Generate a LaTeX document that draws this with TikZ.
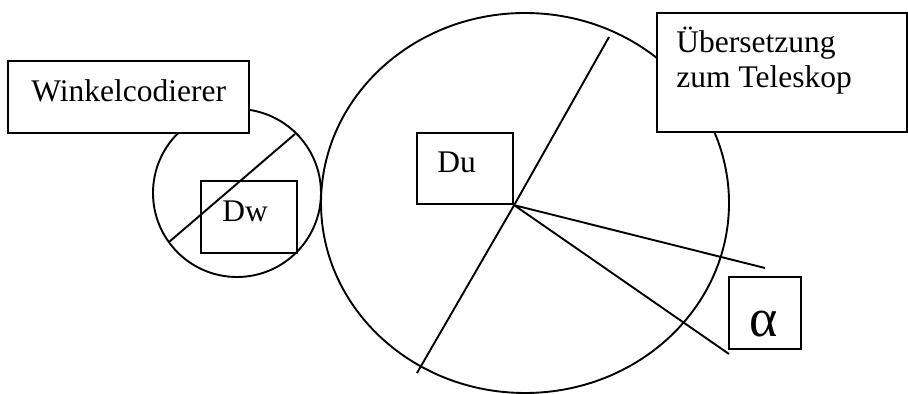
\documentclass[tikz,border=0pt]{standalone}
\usepackage{fontspec}
\setmainfont{Liberation Serif}
\begin{document}
\begin{tikzpicture}[x=.5pt,y=-.5pt,
  box/.style={draw,line width=1.15pt,inner sep=0pt},
  txt/.style={anchor=base west,inner sep=0pt,font=\fontsize{15.75}{19}\selectfont}]
 \useasboundingbox (0,0) rectangle (908,394);
 \draw[line width=.95pt] (237,193) circle[radius=84];
 \draw[line width=.95pt] (525,203) circle[x radius=204,y radius=190];
 \coordinate (w1) at (169,242);
 \coordinate (w2) at (295,134);
 \draw[line width=.95pt] (w1)--(w2);
 \node[box,minimum width=48pt,minimum height=36pt] (dw) at (249,217) {};
 \node[txt] (dwtext) at (222,222) {Dw};
 \node[box,minimum width=48pt,minimum height=35.5pt] (du) at (465,168.5) {};
 \node[txt] (dutext) at (437,173) {Du};
 \coordinate (top) at (609,37);
 \coordinate (bottom) at (417,373);
 \coordinate (ray1) at (765,268);
 \coordinate (ray2) at (729,354);
 \draw[line width=.95pt] (top)--(du.south east)--(bottom);
 \draw[line width=.95pt] (ray1)--(du.south east)--(ray2);
 \node[box,fill=white,minimum width=120.5pt,minimum height=36pt] (wk) at (128.5,97) {};
 \node[txt] (wktext) at (31,102) {Winkelcodierer};
 \node[box,fill=white,minimum width=125pt,minimum height=59.5pt] (ueb) at (782,72.5) {};
 \node[txt] (uebtext) at (676,53) {Übersetzung};
 \node[txt] (teltext) at (676,88) {zum Teleskop};
 \node[box,minimum width=36pt,minimum height=36pt] (alpha) at (765,313) {};
 \node[anchor=base,inner sep=0pt,font=\fontsize{27}{32}\selectfont] (alphatext) at (764,337) {α};
\end{tikzpicture}
\end{document}
